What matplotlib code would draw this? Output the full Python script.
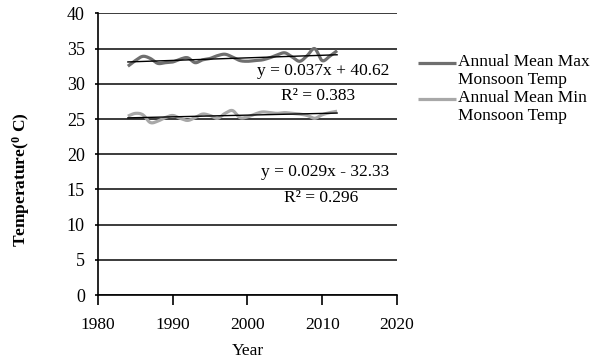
import numpy as np
import matplotlib
matplotlib.use("Agg")
import matplotlib.pyplot as plt
from matplotlib.legend_handler import HandlerLine2D

plt.rcParams['font.family'] = ['Liberation Serif', 'DejaVu Serif']
plt.rcParams['mathtext.fontset'] = 'custom'
plt.rcParams['mathtext.rm'] = 'Liberation Serif'
plt.rcParams['mathtext.bf'] = 'Liberation Serif:bold'

years = list(range(1984, 2013))
max_temp = [32.5, 33.3, 33.9, 33.6, 32.9, 33.0, 33.1, 33.5, 33.7, 33.0,
            33.4, 33.6, 34.0, 34.2, 33.8, 33.3, 33.2, 33.3, 33.4, 33.7,
            34.1, 34.4, 33.8, 33.2, 34.0, 35.0, 33.3, 33.9, 34.7]
min_temp = [25.4, 25.8, 25.6, 24.5, 24.7, 25.2, 25.5, 25.1, 24.8, 25.2,
            25.7, 25.5, 25.1, 25.8, 26.2, 25.2, 25.3, 25.7, 26.0, 25.9,
            25.8, 25.9, 25.8, 25.7, 25.5, 25.1, 25.6, 25.9, 26.1]
series_labels = ['Annual Mean Max\nMonsoon Temp', 'Annual Mean Min\nMonsoon Temp']
eq_max = 'y = 0.037x + 40.62'
r2_max = 'R² = 0.383'
eq_min = 'y = 0.029x - 32.33'
r2_min = 'R² = 0.296'
x_ticks = [1980, 1990, 2000, 2010, 2020]
y_ticks = [0, 5, 10, 15, 20, 25, 30, 35, 40]


def smooth(x, y, n=12):
    """Catmull-Rom rendering of a line through the given points."""
    x = np.asarray(x, float)
    y = np.asarray(y, float)
    px = np.concatenate([[x[0]], x, [x[-1]]])
    py = np.concatenate([[y[0]], y, [y[-1]]])
    xs, ys = [], []
    t = np.linspace(0, 1, n, endpoint=False)
    for i in range(1, len(px) - 2):
        for arr, out in ((px, xs), (py, ys)):
            p0, p1, p2, p3 = arr[i - 1], arr[i], arr[i + 1], arr[i + 2]
            out.extend(0.5 * ((2 * p1) + (-p0 + p2) * t +
                              (2 * p0 - 5 * p1 + 4 * p2 - p3) * t ** 2 +
                              (-p0 + 3 * p1 - 3 * p2 + p3) * t ** 3))
    xs.append(x[-1])
    ys.append(y[-1])
    return np.array(xs), np.array(ys)


class TopLineHandler(HandlerLine2D):
    def __init__(self, shift, **kw):
        super().__init__(**kw)
        self.shift = shift

    def create_artists(self, legend, orig_handle, xdescent, ydescent,
                       width, height, fontsize, trans):
        arts = super().create_artists(legend, orig_handle, xdescent, ydescent,
                                      width, height, fontsize, trans)
        for a in arts:
            a.set_ydata(np.asarray(a.get_ydata()) + self.shift)
        return arts


fig = plt.figure(figsize=(5.95, 3.62), dpi=100)
ax = fig.add_axes([0.1647, 0.185, 0.667 - 0.1647, 0.963 - 0.185])

c_max = '#6f6f6f'
c_min = '#a8a8a8'

sx, sy = smooth(years, max_temp)
l1, = ax.plot(sx, sy, color=c_max, lw=2.3, solid_capstyle='butt', zorder=3)
sx, sy = smooth(years, min_temp)
l2, = ax.plot(sx, sy, color=c_min, lw=2.3, solid_capstyle='butt', zorder=3)

yr = np.array(years, float)
for vals in (max_temp, min_temp):
    k, b = np.polyfit(yr, vals, 1)
    ax.plot([yr[0], yr[-1]], [k * yr[0] + b, k * yr[-1] + b], color='black', lw=1.0, zorder=4)

ax.set_xlim(1980, 2020)
ax.set_ylim(0, 40)
ax.set_xticks(x_ticks)
ax.set_yticks(y_ticks)
ax.grid(axis='y', color='#1a1a1a', lw=1.2)
ax.set_axisbelow(True)
for s in ('top', 'right'):
    ax.spines[s].set_visible(False)
for s in ('left', 'bottom'):
    ax.spines[s].set_color('black')
    ax.spines[s].set_linewidth(1.2)
ax.tick_params(axis='x', direction='out', length=7.5, width=1.2, pad=8, labelsize=12.5)
ax.tick_params(axis='y', direction='out', length=2.5, width=1.2, pad=7, labelsize=13)

fs = 12.5
ax.text(2010.2, 31.8, eq_max, ha='center', va='center', fontsize=fs)
ax.text(2009.5, 28.2, r2_max, ha='center', va='center', fontsize=fs)
ax.text(2010.4, 17.5, eq_min, ha='center', va='center', fontsize=fs)
ax.text(2009.9, 13.75, r2_min, ha='center', va='center', fontsize=fs)

ax.set_xlabel('Year', fontsize=fs)
ax.xaxis.set_label_coords(0.5, -0.17)
ax.set_ylabel(r'Temperature($\mathbf{^0}$ C)', fontsize=fs, fontweight='bold')
ax.yaxis.set_label_coords(-0.222, 0.41)

hmap = {l1: TopLineHandler(5.8), l2: TopLineHandler(5.8)}
leg = fig.legend([l1, l2], series_labels, loc='upper left',
                 bbox_to_anchor=(0.703, 0.851), frameon=False, fontsize=fs,
                 handlelength=2.2, handletextpad=0.1, labelspacing=0.1,
                 borderpad=0, borderaxespad=0, handler_map=hmap)
for t in leg.get_texts():
    t.set_linespacing(1.18)

fig.savefig('out.png', dpi=100)
